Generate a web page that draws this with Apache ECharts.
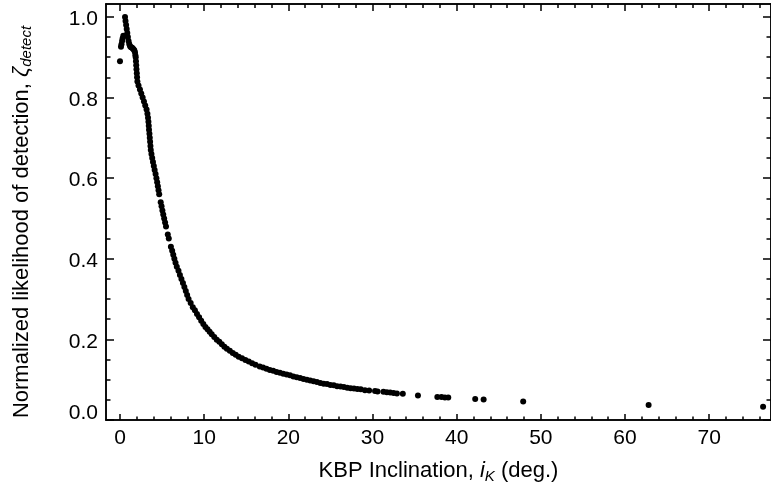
<!DOCTYPE html>
<html>
<head>
<meta charset="utf-8">
<script src="https://cdn.jsdelivr.net/npm/echarts@6/dist/echarts.min.js"></script>
<style>html,body{margin:0;padding:0;background:#fff;overflow:hidden;}#c{width:771px;height:501px;}</style>
</head>
<body>
<div id="c"></div>
<script>
// KBP inclination (deg.)
const inclination = [
  0.0,
  0.12, 0.18, 0.25, 0.32, 0.40,
  0.60, 0.66, 0.73, 0.80, 0.87, 0.94, 1.02, 1.10, 1.20, 1.30, 1.40, 1.50, 1.60, 1.70, 1.78, 1.83,
  1.87, 1.90, 1.93, 1.96, 2.00, 2.03, 2.07, 2.20, 2.37, 2.53, 2.69, 2.85, 3.00, 3.16, 3.26, 3.33,
  3.38, 3.42, 3.45, 3.50, 3.54, 3.58, 3.62, 3.66, 3.74, 3.83, 3.92, 4.02, 4.12, 4.23, 4.33, 4.42,
  4.50, 4.58, 4.66, 4.84, 4.94, 5.04, 5.14, 5.25, 5.36, 5.47, 5.68, 5.80, 6.05, 6.20, 6.33, 6.46,
  6.60, 6.75, 6.95, 7.12, 7.30, 7.48, 7.65, 7.82, 7.98, 8.15,
  8.40, 8.65, 8.90, 9.15, 9.40, 9.65, 9.90, 10.15, 10.40, 10.65, 10.90, 11.20, 11.50, 11.80, 12.10,
  12.40, 12.70, 13.05, 13.40, 13.75, 14.10, 14.50, 14.90, 15.30, 15.70, 16.10, 16.60, 17.00, 17.40,
  17.80, 18.20, 18.60, 19.00, 19.40, 19.80, 20.20, 20.60, 21.00, 21.40, 21.80, 22.20, 22.60, 23.00,
  23.40, 23.80, 24.20, 24.60, 25.00, 25.40, 25.80, 26.20, 26.60, 27.00, 27.40, 27.80, 28.20, 28.60,
  29.10, 29.60, 30.30, 30.60, 31.30, 31.70, 32.10, 32.50, 32.90, 33.60, 35.40, 37.70, 38.20, 38.60,
  39.00, 42.20, 43.20, 47.90, 62.80, 76.40
];
// Normalized likelihood of detection
const likelihood = [
  0.890,
  0.926, 0.932, 0.940, 0.947, 0.953,
  1.000, 0.990, 0.980, 0.970, 0.960, 0.950, 0.940, 0.933, 0.927, 0.925, 0.924, 0.922, 0.920, 0.917, 0.912, 0.905,
  0.900, 0.890, 0.880, 0.870, 0.860, 0.850, 0.840, 0.830, 0.820, 0.810, 0.800, 0.790, 0.780, 0.770, 0.760, 0.750,
  0.740, 0.730, 0.720, 0.710, 0.700, 0.690, 0.680, 0.670, 0.660, 0.650, 0.640, 0.630, 0.620, 0.610, 0.600, 0.590,
  0.580, 0.570, 0.560, 0.540, 0.530, 0.520, 0.510, 0.500, 0.490, 0.480, 0.460, 0.450, 0.430, 0.420, 0.410, 0.400,
  0.390, 0.380, 0.370, 0.360, 0.350, 0.340, 0.330, 0.320, 0.310, 0.300,
  0.290, 0.280, 0.272, 0.263, 0.255, 0.246, 0.238, 0.231, 0.225, 0.219, 0.213, 0.206, 0.199, 0.194, 0.188,
  0.182, 0.177, 0.172, 0.166, 0.162, 0.157, 0.153, 0.149, 0.145, 0.141, 0.137, 0.133, 0.130, 0.127,
  0.124, 0.122, 0.119, 0.117, 0.115, 0.113, 0.111, 0.108, 0.106, 0.104, 0.102, 0.100, 0.098, 0.096,
  0.094, 0.092, 0.090, 0.089, 0.087, 0.086, 0.084, 0.083, 0.082, 0.080, 0.079, 0.078, 0.077, 0.076,
  0.074, 0.073, 0.072, 0.071, 0.070, 0.069, 0.068, 0.067, 0.066, 0.065, 0.061, 0.057, 0.057, 0.056,
  0.056, 0.052, 0.051, 0.046, 0.037, 0.033
];
const xMajorTicks = [0, 10, 20, 30, 40, 50, 60, 70];
const xMinorTicks = [0, 2, 4, 6, 8, 10, 12, 14, 16, 18, 20, 22, 24, 26, 28, 30, 32, 34, 36, 38, 40,
  42, 44, 46, 48, 50, 52, 54, 56, 58, 60, 62, 64, 66, 68, 70, 72, 74, 76];
const yMajorTicks = [0.0, 0.2, 0.4, 0.6, 0.8, 1.0];
const yMinorTicks = [0.0, 0.05, 0.1, 0.15, 0.2, 0.25, 0.3, 0.35, 0.4, 0.45, 0.5, 0.55, 0.6, 0.65,
  0.7, 0.75, 0.8, 0.85, 0.9, 0.95, 1.0];

const X_MIN = -1.66, X_MAX = 77.34, Y_MIN = 0, Y_MAX = 1.032;
const FONT = '"Liberation Sans", Arial, Helvetica, sans-serif';

const pts = inclination.map((x, i) => [x, likelihood[i]]);

function xAx(pos, ticks, len, extra) {
  return Object.assign({
    type: 'value', gridIndex: 0, position: pos, min: X_MIN, max: X_MAX,
    axisLine: { show: true, onZero: false, lineStyle: { color: '#000', width: 1.5 } },
    axisTick: { show: true, inside: true, length: len, customValues: ticks, lineStyle: { color: '#000', width: 1.5 } },
    axisLabel: { show: false },
    splitLine: { show: false }
  }, extra || {});
}
function yAx(pos, ticks, len, extra) {
  return Object.assign({
    type: 'value', gridIndex: 0, position: pos, min: Y_MIN, max: Y_MAX,
    axisLine: { show: true, onZero: false, lineStyle: { color: '#000', width: 1.5 } },
    axisTick: { show: true, inside: true, length: len, customValues: ticks, lineStyle: { color: '#000', width: 1.5 } },
    axisLabel: { show: false },
    splitLine: { show: false }
  }, extra || {});
}

const chart = echarts.init(document.getElementById('c'), null, { renderer: 'canvas' });
chart.setOption({
  animation: false,
  backgroundColor: '#fff',
  grid: { left: 106, right: -1, top: 4, bottom: 81, containLabel: false },
  xAxis: [
    xAx('bottom', xMajorTicks, 6, {
      axisLabel: { show: true, customValues: xMajorTicks, fontSize: 21, fontFamily: FONT, color: '#000', margin: 8,
        formatter: v => String(Math.round(v)) },
      name: '{t|KBP Inclination, }{i|i}{s|K}{t| (deg.)}',
      nameLocation: 'middle', nameGap: 37,
      nameTextStyle: {
        rich: {
          t: { fontSize: 22, fontFamily: FONT, color: '#000' },
          i: { fontSize: 22, fontFamily: FONT, color: '#000', fontStyle: 'italic' },
          s: { fontSize: 15, fontFamily: FONT, color: '#000', fontStyle: 'italic', padding: [12, 0, 0, 0] }
        }
      }
    }),
    xAx('bottom', xMinorTicks, 3.5),
    xAx('top', xMajorTicks, 7),
    xAx('top', xMinorTicks, 4)
  ],
  yAxis: [
    yAx('left', yMajorTicks, 8, {
      axisLabel: { show: true, customValues: yMajorTicks, fontSize: 21, fontFamily: FONT, color: '#000', margin: 8,
        formatter: v => (v === 0 ? '{z|0.0}' : '{n|' + v.toFixed(1) + '}'),
        rich: {
          z: { fontSize: 21, fontFamily: FONT, color: '#000', padding: [0, 0, 14, 0] },
          n: { fontSize: 21, fontFamily: FONT, color: '#000', padding: [5, 0, 0, 0] }
        }
      },
      name: '{t|Normalized likelihood of detection, }{z|ζ}{s|detect}',
      nameLocation: 'middle', nameGap: 72, nameRotate: 90,
      nameTextStyle: {
        padding: [0, 20, 0, 0],
        rich: {
          t: { fontSize: 22, fontFamily: FONT, color: '#000' },
          z: { fontSize: 22, fontFamily: FONT, color: '#000', fontStyle: 'italic' },
          s: { fontSize: 15, fontFamily: FONT, color: '#000', fontStyle: 'italic', padding: [10, 0, 0, 0] }
        }
      }
    }),
    yAx('left', yMinorTicks, 4.5),
    yAx('right', yMajorTicks, 8),
    yAx('right', yMinorTicks, 4.5)
  ],
  series: [{
    type: 'scatter',
    xAxisIndex: 0, yAxisIndex: 0,
    data: pts,
    symbol: 'circle',
    symbolSize: 6,
    itemStyle: { color: '#000', opacity: 1 },
    emphasis: { disabled: true }
  }]
});
</script>
</body>
</html>
